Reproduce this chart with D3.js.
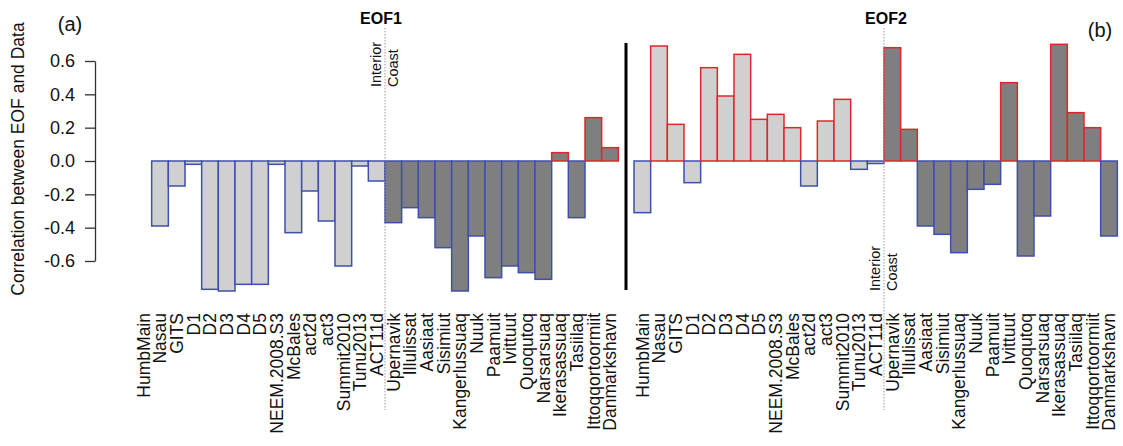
<!DOCTYPE html>
<html>
<head>
<meta charset="utf-8">
<script src="https://cdn.jsdelivr.net/npm/d3@7"></script>
<style>
  html, body { margin: 0; padding: 0; background: #fff; }
  svg { display: block; font-family: "Liberation Sans", Arial, sans-serif; }
</style>
</head>
<body>
<svg id="chart" width="1123" height="446"></svg>
<script>
// ---- data ----
const interiorStations = ["HumbMain","Nasau","GITS","D1","D2","D3","D4","D5","NEEM.2008.S3","McBales","act2d","act3","Summit2010","Tunu2013","ACT11d"];
const coastStations = ["Upernavik","Illulissat","Aasiaat","Sisimiut","Kangerlussuaq","Nuuk","Paamuit","Ivittuut","Quoqutoq","Narsarsuaq","Ikerasassuaq","Tasiilaq","Ittoqqortoormiit","Danmarkshavn"];
const eof1Values = [0, -0.39, -0.15, -0.02, -0.77, -0.78, -0.74, -0.74, -0.02, -0.43, -0.18, -0.36, -0.63, -0.03, -0.12,
                    -0.37, -0.28, -0.34, -0.52, -0.78, -0.45, -0.70, -0.63, -0.67, -0.71, 0.05, -0.34, 0.26, 0.08];
const eof2Values = [-0.31, 0.69, 0.22, -0.13, 0.56, 0.39, 0.64, 0.25, 0.28, 0.20, -0.15, 0.24, 0.37, -0.05, -0.015,
                    0.68, 0.19, -0.39, -0.44, -0.55, -0.17, -0.14, 0.47, -0.57, -0.33, 0.70, 0.29, 0.20, -0.45];
const yTicks = [-0.6, -0.4, -0.2, 0, 0.2, 0.4, 0.6];
const yTickLabels = ["-0.6", "-0.4", "-0.2", "0.0", "0.2", "0.4", "0.6"];
const panelTitles = ["EOF1", "EOF2"];
const panelTags = ["(a)", "(b)"];
const yTitle = "Correlation between EOF and Data";

// ---- layout ----
const stations = interiorStations.concat(coastStations);
const svg = d3.select("#chart");
const y = d3.scaleLinear().domain([-0.6, 0.6]).range([261, 61]);
const barW = 250 / 15;
const panels = [
  { values: eof1Values, x0: 135, title: panelTitles[0], titleX: 381, regionLabelStartY: 87 },
  { values: eof2Values, x0: 634, title: panelTitles[1], titleX: 886, regionLabelStartY: 291 }
];
const fillInterior = "#d0d0d0", fillCoast = "#7f7f7f";
const strokePos = "#e3242b", strokeNeg = "#3f4fae";
const textCol = "#111";

// y axis
const axis = d3.axisLeft(y).tickValues(yTicks)
  .tickFormat((d, i) => yTickLabels[i]).tickSize(10).tickSizeOuter(0).tickPadding(10);
const gAxis = svg.append("g").attr("transform", "translate(95,0)").call(axis);
gAxis.select(".domain").attr("stroke", "#333").attr("stroke-width", 1.3);
gAxis.selectAll(".tick line").attr("stroke", "#333").attr("stroke-width", 1.3);
gAxis.selectAll(".tick text").attr("font-size", 18).attr("fill", textCol)
  .attr("font-family", "Liberation Sans, Arial, sans-serif");

svg.append("text").attr("transform", "translate(24,159) rotate(-90)")
  .attr("text-anchor", "middle").attr("font-size", 17.5).attr("fill", textCol).text(yTitle);

svg.append("text").attr("x", 70).attr("y", 31).attr("text-anchor", "middle")
  .attr("font-size", 20).attr("fill", textCol).text(panelTags[0]);
svg.append("text").attr("x", 1100).attr("y", 37).attr("text-anchor", "middle")
  .attr("font-size", 20).attr("fill", textCol).text(panelTags[1]);

panels.forEach(p => {
  const x = d3.scaleBand().domain(stations).range([p.x0, p.x0 + barW * stations.length]).padding(0);
  const g = svg.append("g");
  const data = stations.map((s, i) => ({ s, v: p.values[i], coast: i >= interiorStations.length }));

  g.selectAll("rect").data(data).join("rect")
    .attr("x", d => x(d.s))
    .attr("width", x.bandwidth())
    .attr("y", d => y(Math.max(0, d.v)))
    .attr("height", d => Math.abs(y(d.v) - y(0)))
    .attr("fill", d => d.coast ? fillCoast : fillInterior)
    .attr("stroke", d => d.v >= 0 ? strokePos : strokeNeg)
    .attr("stroke-width", 1.5);

  // station labels
  g.selectAll("text.lab").data(data).join("text").attr("class", "lab")
    .attr("transform", d => `translate(${x(d.s) + x.bandwidth() / 2},313) rotate(-90)`)
    .attr("dy", "0.36em").attr("text-anchor", "end")
    .attr("font-size", 17.5).attr("fill", textCol).text(d => d.s);

  // interior / coast divider
  const xd = x(coastStations[0]);
  g.append("line").attr("x1", xd).attr("x2", xd).attr("y1", 28).attr("y2", 410)
    .attr("stroke", "#9a9a9a").attr("stroke-width", 1).attr("stroke-dasharray", "1.5,1.5");
  g.append("text").attr("transform", `translate(${xd - 9},${p.regionLabelStartY}) rotate(-90)`)
    .attr("dy", "0.36em").attr("font-size", 14.5).attr("fill", textCol).text("Interior");
  g.append("text").attr("transform", `translate(${xd + 8},${p.regionLabelStartY}) rotate(-90)`)
    .attr("dy", "0.36em").attr("font-size", 14.5).attr("fill", textCol).text("Coast");

  svg.append("text").attr("x", p.titleX).attr("y", 24).attr("text-anchor", "middle")
    .attr("font-size", 16).attr("font-weight", "bold").attr("fill", "#000").text(p.title);
});

// panel separator
svg.append("line").attr("x1", 626).attr("x2", 626).attr("y1", 43).attr("y2", 290)
  .attr("stroke", "#000").attr("stroke-width", 3);
</script>
</body>
</html>
